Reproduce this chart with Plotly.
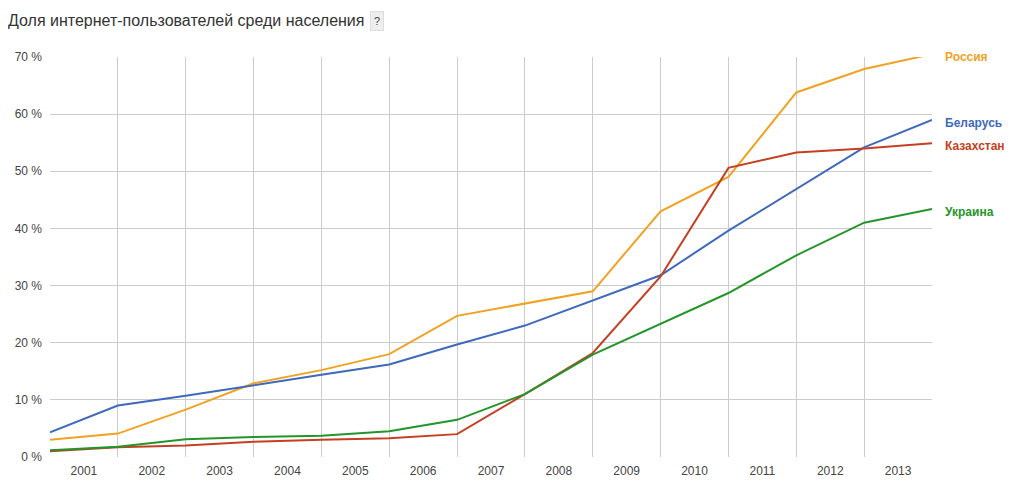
import plotly.graph_objects as go

# one point per Jan 1; labels sit in the middle of each year
years = list(range(2001, 2015))
year_labels = [str(y) for y in range(2001, 2014)]

russia = [3.0, 4.1, 8.3, 12.9, 15.2, 18.0, 24.7, 26.8, 29.0, 43.0, 49.0, 63.8, 67.9, 70.5]
belarus = [4.3, 9.0, 10.7, 12.6, 14.4, 16.2, 19.7, 23.0, 27.4, 31.8, 39.6, 46.9, 54.2, 59.0]
kazakhstan = [1.0, 1.7, 2.0, 2.65, 3.0, 3.3, 4.0, 11.0, 18.2, 31.6, 50.6, 53.3, 54.0, 54.9]
ukraine = [1.2, 1.8, 3.1, 3.5, 3.7, 4.5, 6.5, 11.0, 17.9, 23.3, 28.7, 35.3, 41.0, 43.4]

series = [
    ('Россия', russia, '#f0a224'),
    ('Беларусь', belarus, '#3f69bb'),
    ('Казахстан', kazakhstan, '#c53f22'),
    ('Украина', ukraine, '#23952a'),
]
y_max = 70

fig = go.Figure()
for name, vals, color in series:
    fig.add_trace(go.Scatter(x=years, y=vals, mode='lines', name=name,
                             line=dict(color=color, width=2), cliponaxis=False))
    # paper coords so the label is not dropped when the value tops the range
    fig.add_annotation(x=years[-1], xref='x', y=vals[-1] / y_max, yref='paper',
                       text='<b>%s</b>' % name, showarrow=False,
                       xanchor='left', yanchor='middle', xshift=11, yshift=-3,
                       font=dict(color=color, size=12))

# page body has an 8px margin, so the figure is shrunk by that much
fig.update_layout(
    width=1009, height=480,
    margin=dict(l=42, r=85, t=49, b=31),
    paper_bgcolor='white', plot_bgcolor='white',
    showlegend=False,
    font=dict(family='Arial, Liberation Sans, sans-serif', color='#444', size=12),
    title=dict(text='Доля интернет-пользователей среди населения',
               x=0, xanchor='left', y=0.975, yanchor='middle',
               font=dict(size=16, color='#333')),
)
fig.add_annotation(xref='paper', yref='paper', x=0.371, y=1.09, text='?',
                   xanchor='center', yanchor='middle',
                   showarrow=False, bgcolor='#eeeeee', bordercolor='#dddddd',
                   borderwidth=1, font=dict(size=11, color='#444'), borderpad=3)

fig.update_xaxes(range=[2001, 2014], tickvals=[y + 0.5 for y in range(2001, 2014)],
                 ticktext=year_labels, showgrid=False, zeroline=False, ticks='',
                 minor=dict(tickvals=years, showgrid=True, gridcolor='#cccccc', gridwidth=1),
                 showline=False, ticklabelstandoff=5, automargin=False)
fig.update_yaxes(range=[0, y_max], tickvals=list(range(0, 71, 10)),
                 ticktext=['%d %%' % v for v in range(0, 71, 10)],
                 gridcolor='#cccccc', zeroline=False, ticks='', ticklabelstandoff=7,
                 automargin=False)

fig.write_html('out.html')
